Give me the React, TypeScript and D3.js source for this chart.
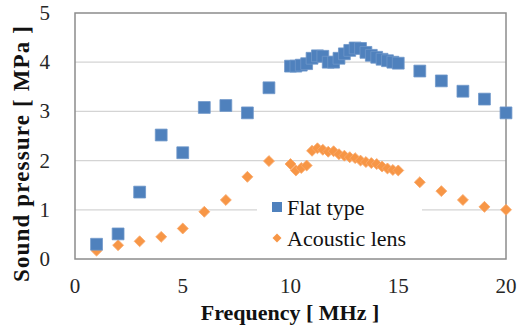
import React from 'react';
import * as d3 from 'd3';

// Frequency in MHz
const flatFreq = [1, 2, 3, 4, 5, 6, 7, 8, 9,
  10, 10.25, 10.5, 10.75, 11, 11.25, 11.5, 11.75, 12, 12.25, 12.5, 12.75,
  13, 13.25, 13.5, 13.75, 14, 14.25, 14.5, 14.75, 15,
  16, 17, 18, 19, 20];
// Sound pressure in MPa, flat type
const flatValues = [0.3, 0.51, 1.36, 2.52, 2.16, 3.08, 3.12, 2.97, 3.48,
  3.92, 3.92, 3.94, 3.97, 4.08, 4.13, 4.12, 4.0, 4.0, 4.08, 4.17, 4.24,
  4.29, 4.28, 4.2, 4.14, 4.1, 4.06, 4.03, 4.0, 3.98,
  3.82, 3.62, 3.41, 3.25, 2.97];

const lensFreq = flatFreq;
// Sound pressure in MPa, acoustic lens
const lensValues = [0.17, 0.28, 0.36, 0.45, 0.62, 0.96, 1.2, 1.67, 1.99,
  1.93, 1.8, 1.85, 1.9, 2.2, 2.25, 2.22, 2.18, 2.19, 2.13, 2.1, 2.07,
  2.05, 2.0, 1.97, 1.95, 1.93, 1.88, 1.84, 1.81, 1.8,
  1.56, 1.38, 1.2, 1.06, 1.0];

const xTicks = [0, 5, 10, 15, 20];
const yTicks = [0, 1, 2, 3, 4, 5];
const legendLabels = ['Flat type', 'Acoustic lens'];

const width = 523;
const height = 328;
const margin = { top: 13, right: 17, bottom: 69, left: 75 };
const innerWidth = width - margin.left - margin.right;
const innerHeight = height - margin.top - margin.bottom;

const x = d3.scaleLinear().domain([0, 20]).range([0, innerWidth]);
const y = d3.scaleLinear().domain([0, 5]).range([innerHeight, 0]);

const square = d3.symbol().type(d3.symbolSquare).size(140)() || '';
const diamond = d3.symbol().type(d3.symbolSquare).size(60)() || '';

export default function App() {
  return (
    <svg
      width={width}
      height={height}
      style={{ position: 'absolute', left: 0, top: 0, background: '#fff' }}
    >
      <style>{`text { font-family: 'Liberation Serif', 'Times New Roman', 'DejaVu Serif', serif; }`}</style>
      <g transform={`translate(${margin.left},${margin.top})`}>
        {/* grid lines */}
        {yTicks.slice(1, -1).map(t => (
          <line key={t} x1={0} x2={innerWidth} y1={y(t)} y2={y(t)} stroke="#d4d4d4" strokeWidth={1.2} />
        ))}

        {/* frame */}
        <rect width={innerWidth} height={innerHeight} fill="none" stroke="#8c8c8c" strokeWidth={1.5} />

        {/* tick labels */}
        {xTicks.map(t => (
          <text key={t} x={x(t)} y={innerHeight + 34} textAnchor="middle" fontSize={21} fill="#262626">
            {t}
          </text>
        ))}
        {yTicks.map(t => (
          <text key={t} x={-25} y={y(t) + 7} textAnchor="end" fontSize={21} fill="#262626">
            {d3.format('d')(t)}
          </text>
        ))}

        {/* legend background */}
        <rect x={182} y={177} width={165} height={64} fill="#ffffff" />

        {/* acoustic lens series */}
        {lensFreq.map((f, i) => (
          <path
            key={i}
            d={diamond}
            transform={`translate(${x(f)},${y(lensValues[i])}) rotate(45)`}
            fill="#f79646"
            stroke="#f9a96b"
            strokeWidth={0.8}
          />
        ))}

        {/* flat type series */}
        {flatFreq.map((f, i) => (
          <path
            key={i}
            d={square}
            transform={`translate(${x(f)},${y(flatValues[i])})`}
            fill="#4f81bd"
            stroke="#6f97c9"
            strokeWidth={0.8}
          />
        ))}

        {/* legend */}
        <g transform="translate(202,194)">
          <path d={d3.symbol().type(d3.symbolSquare).size(100)() || ''} fill="#4f81bd" />
          <path
            d={d3.symbol().type(d3.symbolSquare).size(40)() || ''}
            transform="translate(0,31) rotate(45)"
            fill="#f79646"
          />
          {legendLabels.map((l, i) => (
            <text key={l} x={10} y={8 + i * 31} fontSize={22} fill="#111">
              {l}
            </text>
          ))}
        </g>
      </g>

      {/* axis titles */}
      <text x={290} y={320} textAnchor="middle" fontWeight="bold" fontSize={22} fill="#111">
        Frequency [ MHz ]
      </text>
      <text
        transform="translate(29,154) rotate(-90)"
        textAnchor="middle"
        fontWeight="bold"
        fontSize={23}
        textLength={256}
        lengthAdjust="spacing"
        fill="#111"
      >
        Sound pressure [ MPa ]
      </text>
    </svg>
  );
}
